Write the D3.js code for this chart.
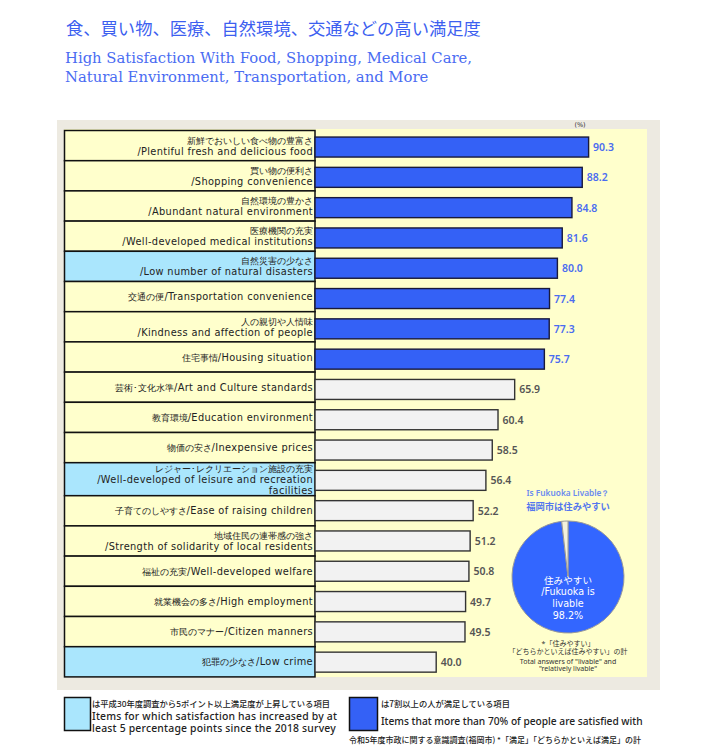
<!DOCTYPE html>
<html><head><meta charset="utf-8">
<script src="https://cdn.jsdelivr.net/npm/d3@7"></script>
<style>body{margin:0;background:#fff}svg{display:block}</style>
</head><body><svg id="c" width="712" height="745"></svg>
<script>
const categories = [
 "新鮮でおいしい食べ物の豊富さ\n/Plentiful fresh and delicious food",
 "買い物の便利さ\n/Shopping convenience",
 "自然環境の豊かさ\n/Abundant natural environment",
 "医療機関の充実\n/Well-developed medical institutions",
 "自然災害の少なさ\n/Low number of natural disasters",
 "交通の便/Transportation convenience",
 "人の親切や人情味\n/Kindness and affection of people",
 "住宅事情/Housing situation",
 "芸術･文化水準/Art and Culture standards",
 "教育環境/Education environment",
 "物価の安さ/Inexpensive prices",
 "レジャー･レクリエーション施設の充実\n/Well-developed of leisure and recreation\nfacilities",
 "子育てのしやすさ/Ease of raising children",
 "地域住民の連帯感の強さ\n/Strength of solidarity of local residents",
 "福祉の充実/Well-developed welfare",
 "就業機会の多さ/High employment",
 "市民のマナー/Citizen manners",
 "犯罪の少なさ/Low crime"
];
const values = [90.3,88.2,84.8,81.6,80.0,77.4,77.3,75.7,65.9,60.4,58.5,56.4,52.2,51.2,50.8,49.7,49.5,40.0];
const increased = [false,false,false,false,true,false,false,false,false,false,false,true,false,false,false,false,false,true];
const threshold = 70;
const pieValues = [98.2, 1.8];
const pieLabel = ["住みやすい","/Fukuoka is","livable","98.2%"];

const svg = d3.select("#c");
const BLUE = "#3461f6", LBLUE = "#aae6fd", YEL = "#ffffcc", TXT = "#222";

// title
svg.append("text").attr("x",66).attr("y",35).attr("fill","#3d5ff0")
 .style("font-family","'Noto Sans CJK JP'").style("font-size","17.3px")
 .text("食、買い物、医療、自然環境、交通などの高い満足度");
["High Satisfaction With Food, Shopping, Medical Care,","Natural Environment, Transportation, and More"].forEach((t,i)=>{
 svg.append("text").attr("x",65).attr("y",63+i*18.5).attr("fill","#4a6cf2")
  .style("font-family","'DejaVu Serif'").style("font-size","14.8px").text(t);
});

// panel
svg.append("rect").attr("x",57).attr("y",120).attr("width",603).attr("height",570).attr("fill","#edeae1");
svg.append("rect").attr("x",64).attr("y",129).attr("width",583).attr("height",548).attr("fill",YEL);

// label cells (height depends on number of lines)
const lines = categories.map(c=>c.split("\n"));
const baseH = 30.2, extra = 2.8;
let acc = 130.5; const cellY = [];
lines.forEach(l=>{ const h = baseH + (l.length>2?extra:0); cellY.push([acc,h]); acc+=h; });

const x = d3.scaleLinear().domain([0,100]).range([315,618]);
const y = d3.scaleBand().domain(d3.range(categories.length)).range([131.9,677.3]).paddingInner(0.34).paddingOuter(0.17);

function runs(t){ return t.match(/[\x00-\x7F]+|[^\x00-\x7F]+/g); }

const cells = svg.append("g");
categories.forEach((c,i)=>{
 const [cy,h]=cellY[i];
 cells.append("rect").attr("x",64.5).attr("y",cy).attr("width",250.5).attr("height",h)
  .attr("fill",increased[i]?LBLUE:YEL).attr("stroke","#111").attr("stroke-width",1.5);
 const n = lines[i].length, mid = cy+h/2;
 lines[i].forEach((t,j)=>{
  const tx = cells.append("text").attr("x",313).attr("y",mid+(j-(n-1)/2)*11+3.5).attr("text-anchor","end")
   .attr("fill",TXT).style("font-family","'DejaVu Sans'").style("font-size","9.2px");
  runs(t).forEach(s=>{
   const ascii = /^[\x00-\x7F]+$/.test(s);
   tx.append("tspan").style("font-size",ascii?"9.8px":"9.4px").style("letter-spacing",ascii?"0.35px":"0px").text(s);
  });
 });
});

// bars
const g = svg.append("g");
g.selectAll("rect.bar").data(values).join("rect").attr("class","bar")
 .attr("x",x(0)).attr("y",(d,i)=>y(i)).attr("width",d=>x(d)-x(0)).attr("height",y.bandwidth())
 .attr("fill",d=>d>threshold?BLUE:"#f2f2f2").attr("stroke",d=>d>threshold?"#1a1a3a":"#333").attr("stroke-width",1.4);
g.selectAll("text.val").data(values).join("text").attr("class","val")
 .attr("x",d=>x(d)+4.5).attr("y",(d,i)=>y(i)+y.bandwidth()/2+4)
 .attr("fill",d=>d>threshold?"#4a6cf0":"#555").style("font-family","'Noto Sans'").style("font-weight","600").style("font-size","10.5px")
 .text(d=>d.toFixed(1));
svg.append("text").attr("x",580).attr("y",127).attr("text-anchor","middle").attr("fill","#333")
 .style("font-family","'DejaVu Sans'").style("font-size","6.5px").text("(%)");

// pie
const cx=568, cy=577, r=56;
const arc = d3.arc().innerRadius(0).outerRadius(r);
const pie = d3.pie().sort(null)(pieValues);
svg.append("g").attr("transform",`translate(${cx},${cy})`).selectAll("path").data(pie).join("path")
 .attr("d",arc).attr("fill",(d,i)=>i===0?"#3366ff":"#f3f1dc").attr("stroke","#999").attr("stroke-width",1);
pieLabel.forEach((t,i)=>{
 svg.append("text").attr("x",cx).attr("y",583.5+i*11.7).attr("text-anchor","middle").attr("fill","#fff")
  .style("font-family","'DejaVu Sans', 'Noto Sans CJK JP'").style("font-size","9.6px").text(t);
});
svg.append("text").attr("x",cx).attr("y",495.5).attr("text-anchor","middle").attr("fill","#6a8af0")
 .style("font-family","'Noto Sans'").style("font-weight","600").style("font-size","8.3px").text("Is Fukuoka Livable？");
svg.append("text").attr("x",cx).attr("y",509.5).attr("text-anchor","middle").attr("fill","#5577ee")
 .style("font-family","'Noto Sans CJK JP'").style("font-weight","700").style("font-size","9.3px").text("福岡市は住みやすい");
["*「住みやすい」","「どちらかといえば住みやすい」の計","Total answers of \"livable\" and","\"relatively livable\""].forEach((t,i)=>{
 svg.append("text").attr("x",cx).attr("y",[646,654,663.5,671][i]).attr("text-anchor","middle").attr("fill","#333")
  .style("font-family","'Noto Sans','Noto Sans CJK JP'").style("font-size","7px").text(t);
});

// legend
svg.append("rect").attr("x",64.5).attr("y",697.5).attr("width",26).attr("height",33).attr("fill",LBLUE).attr("stroke","#111").attr("stroke-width",1.5);
["は平成30年度調査から5ポイント以上満足度が上昇している項目","Items for which satisfaction has increased by at","least 5 percentage points since the 2018 survey"].forEach((t,i)=>{
 svg.append("text").attr("x",92).attr("y",707+i*12.5).attr("fill",TXT)
  .style("font-family","'Noto Sans','Noto Sans CJK JP'").style("font-weight","500").style("font-size",i===0?"8.3px":"10.4px")
  .style("letter-spacing",i===0?"0px":"0.2px").text(t);
});
svg.append("rect").attr("x",349.5).attr("y",697.5).attr("width",28).attr("height",33).attr("fill",BLUE).attr("stroke","#111").attr("stroke-width",1.5);
svg.append("text").attr("x",381).attr("y",707).attr("fill",TXT).style("font-family","'Noto Sans CJK JP'").style("font-weight","500").style("font-size","8.3px").text("は7割以上の人が満足している項目");
svg.append("text").attr("x",381).attr("y",725).attr("fill",TXT).style("font-family","'Noto Sans'").style("font-weight","500").style("font-size","10.2px").text("Items that more than 70% of people are satisfied with");
svg.append("text").attr("x",349).attr("y",743).attr("fill",TXT).style("font-family","'Noto Sans CJK JP'").style("font-weight","500").style("font-size","8px").text("令和5年度市政に関する意識調査(福岡市) *「満足」「どちらかといえば満足」の計");
</script></body></html>
